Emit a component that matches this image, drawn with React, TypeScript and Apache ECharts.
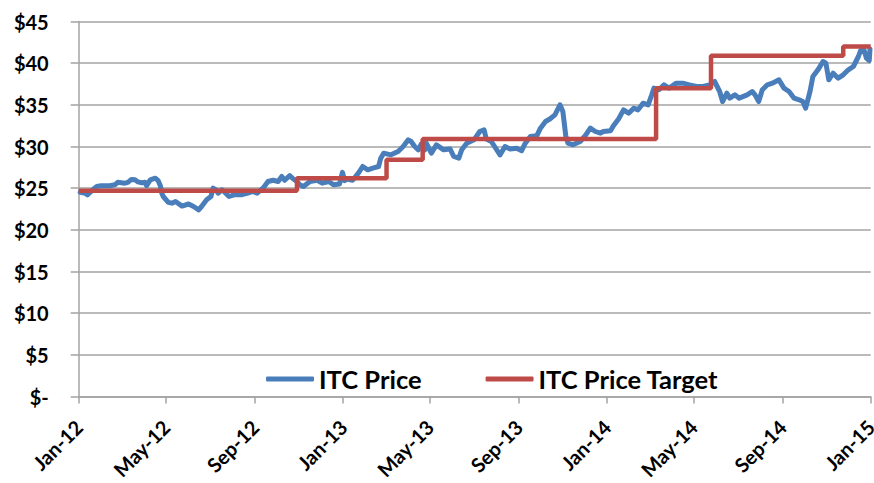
import React, { useEffect, useRef } from "react";
import * as echarts from "echarts";

// ---- Data ----
const priceDates = [
  "2012-01-03","2012-01-10","2012-01-13","2012-01-23","2012-01-26","2012-02-01","2012-02-13","2012-02-20","2012-02-24",
  "2012-03-05","2012-03-09","2012-03-14","2012-03-19","2012-03-23","2012-03-28","2012-04-02","2012-04-04","2012-04-09",
  "2012-04-16","2012-04-20","2012-04-23","2012-04-25","2012-04-27","2012-05-04","2012-05-09","2012-05-14","2012-05-23",
  "2012-06-01","2012-06-08","2012-06-15","2012-06-19","2012-06-26","2012-07-02","2012-07-05","2012-07-09","2012-07-12",
  "2012-07-17","2012-07-20","2012-07-27","2012-08-03","2012-08-13","2012-08-22","2012-08-29","2012-09-04","2012-09-12",
  "2012-09-19","2012-09-26","2012-10-03","2012-10-08","2012-10-12","2012-10-19","2012-10-24","2012-10-29","2012-11-02",
  "2012-11-07","2012-11-16","2012-11-26","2012-12-03","2012-12-12","2012-12-19","2012-12-27","2012-12-31","2013-01-03",
  "2013-01-07","2013-01-14","2013-01-22","2013-01-28","2013-02-04","2013-02-11","2013-02-19","2013-02-22","2013-02-26",
  "2013-03-08","2013-03-18","2013-03-25","2013-04-01","2013-04-05","2013-04-10","2013-04-15","2013-04-19","2013-04-24",
  "2013-04-26","2013-05-03","2013-05-10","2013-05-20","2013-05-29","2013-06-03","2013-06-10","2013-06-14","2013-06-21",
  "2013-07-01","2013-07-09","2013-07-15","2013-07-18","2013-07-25","2013-08-06","2013-08-13","2013-08-20","2013-08-29",
  "2013-09-05","2013-09-10","2013-09-17","2013-09-26","2013-10-01","2013-10-08","2013-10-14","2013-10-21","2013-10-28",
  "2013-11-01","2013-11-05","2013-11-08","2013-11-15","2013-11-25","2013-12-02","2013-12-09","2013-12-16","2013-12-23",
  "2013-12-27","2014-01-06","2014-01-10","2014-01-17","2014-01-24","2014-01-31","2014-02-07","2014-02-13","2014-02-20",
  "2014-02-27","2014-03-04","2014-03-07","2014-03-14","2014-03-21","2014-03-28","2014-04-07","2014-04-16","2014-04-25",
  "2014-05-05","2014-05-14","2014-05-23","2014-05-30","2014-06-06","2014-06-10","2014-06-16","2014-06-20","2014-06-27",
  "2014-07-03","2014-07-14","2014-07-21","2014-07-25","2014-07-30","2014-08-04","2014-08-11","2014-08-18","2014-08-27",
  "2014-09-03","2014-09-10","2014-09-17","2014-09-24","2014-09-29","2014-10-03","2014-10-09","2014-10-13","2014-10-20",
  "2014-10-27","2014-10-31","2014-11-04","2014-11-10","2014-11-17","2014-11-24","2014-12-01","2014-12-08","2014-12-15",
  "2014-12-18","2014-12-22","2014-12-26","2014-12-30","2014-12-31"
];
const priceValues = [
  24.5,24.4,24.2,25.0,25.2,25.3,25.3,25.4,25.7,
  25.6,25.7,26.05,26.0,25.75,25.65,25.7,25.3,26.0,
  26.2,25.9,25.3,24.4,24.0,23.3,23.2,23.4,22.85,
  23.1,22.8,22.4,22.8,23.6,24.0,25.0,24.8,24.4,
  24.8,24.6,24.0,24.2,24.2,24.4,24.6,24.4,25.0,
  25.8,25.95,25.8,26.4,25.95,26.5,26.1,25.8,25.4,
  25.2,25.8,25.95,25.6,25.8,25.4,25.5,26.9,25.9,
  26.1,25.95,26.8,27.6,27.2,27.4,27.6,28.6,29.2,
  29.0,29.4,30.0,30.8,30.6,30.0,29.6,30.3,29.6,
  30.4,29.2,30.2,29.6,29.7,28.8,28.6,29.6,30.4,
  30.8,31.8,32.0,30.9,30.6,29.0,30.0,29.7,29.8,
  29.5,30.4,31.2,31.3,32.2,33.0,33.3,33.8,35.0,
  34.2,31.3,30.4,30.2,30.6,31.3,32.2,31.8,31.6,
  31.8,31.9,32.5,33.3,34.4,34.0,34.6,34.4,35.2,
  35.0,36.2,37.0,36.8,37.4,37.0,37.6,37.6,37.4,
  37.2,37.2,37.4,37.8,36.6,35.4,36.4,35.8,36.2,
  35.8,36.2,36.6,36.2,35.4,36.8,37.4,37.6,38.0,
  37.0,36.6,35.8,35.6,35.4,34.6,36.6,38.4,39.2,
  40.2,40.0,38.0,38.8,38.2,38.6,39.2,39.6,40.8,
  41.5,41.8,40.6,40.3,41.7
];
const targetDates = ["2012-01-01","2012-10-29","2013-03-02","2013-04-21","2014-03-10","2014-05-25","2014-11-24","2015-01-01"];
const targetValues = [24.7, 26.2, 28.4, 30.9, 37.0, 40.9, 42.0, 42.0];
const xTickDates = ["2012-01-01","2012-05-01","2012-09-01","2013-01-01","2013-05-01","2013-09-01","2014-01-01","2014-05-01","2014-09-01","2015-01-01"];
const xTickLabels = ["Jan-12","May-12","Sep-12","Jan-13","May-13","Sep-13","Jan-14","May-14","Sep-14","Jan-15"];
const seriesNames = ["ITC Price", "ITC Price Target"];

const ts = (s: string) => {
  const [y, m, d] = s.split("-").map(Number);
  return Date.UTC(y, m - 1, d);
};

const FONT = "Lato, 'Liberation Sans', sans-serif";
const GRID = "#A3A3A3";

export default function App() {
  const ref = useRef<HTMLDivElement>(null);
  useEffect(() => {
    if (!ref.current) return;
    const chart = echarts.init(ref.current, undefined, { renderer: "svg" });
    const tickTs = xTickDates.map(ts);
    const option: any = {
      animation: false,
      backgroundColor: "#ffffff",
      grid: { left: 78.7, right: 3.3, top: 21.5, bottom: 86.5, containLabel: false, outerBoundsMode: "none" },
      legend: {
        data: seriesNames,
        left: 261,
        top: 361,
        icon: "roundRect",
        itemWidth: 48,
        itemHeight: 5,
        itemGap: 64,
        textStyle: { fontFamily: FONT, fontWeight: "bold", fontSize: 25.5, color: "#000" },
      },
      xAxis: {
        type: "value",
        min: ts("2012-01-01"),
        max: ts("2015-01-01"),
        axisLine: { show: true, onZero: false, lineStyle: { color: GRID, width: 1.5 } },
        axisTick: { show: true, length: 7, customValues: tickTs, lineStyle: { color: GRID, width: 1.5 } },
        axisLabel: {
          customValues: tickTs,
          rotate: 45,
          margin: 27,
          fontFamily: FONT,
          fontWeight: "bold",
          fontSize: 20,
          color: "#000",
          showMinLabel: true,
          showMaxLabel: true,
          hideOverlap: false,
          formatter: (v: number) => {
            const i = tickTs.findIndex((t) => Math.abs(t - v) < 43200000);
            return i >= 0 ? xTickLabels[i] : "";
          },
        },
        splitLine: { show: false },
      },
      yAxis: {
        type: "value",
        min: 0,
        max: 45,
        interval: 5,
        axisLine: { show: true, lineStyle: { color: GRID, width: 1.5 } },
        axisTick: { show: true, length: 8, lineStyle: { color: GRID, width: 1.5 } },
        axisLabel: {
          margin: 30,
          fontFamily: FONT,
          fontWeight: "bold",
          fontSize: 20,
          color: "#000",
          formatter: (v: number) => (v === 0 ? "$-" : "$" + v),
        },
        splitLine: { show: true, lineStyle: { color: GRID, width: 1.5 } },
      },
      series: [
        {
          name: seriesNames[0],
          type: "line",
          data: priceDates.map((d, i) => [ts(d), priceValues[i]]),
          showSymbol: false,
          symbol: "none",
          lineStyle: { width: 5, color: "#4A7EBB", cap: "round", join: "round" },
          itemStyle: { color: "#4A7EBB" },
        },
        {
          name: seriesNames[1],
          type: "line",
          step: "end",
          data: targetDates.map((d, i) => [ts(d), targetValues[i]]),
          showSymbol: false,
          symbol: "none",
          lineStyle: { width: 4.5, color: "#BE4B48" },
          itemStyle: { color: "#BE4B48" },
        },
      ],
    };
    chart.setOption(option);
    return () => chart.dispose();
  }, []);
  return (
    <div
      ref={ref}
      style={{ position: "fixed", left: 0, top: 0, width: 874, height: 483, background: "#fff" }}
    />
  );
}
